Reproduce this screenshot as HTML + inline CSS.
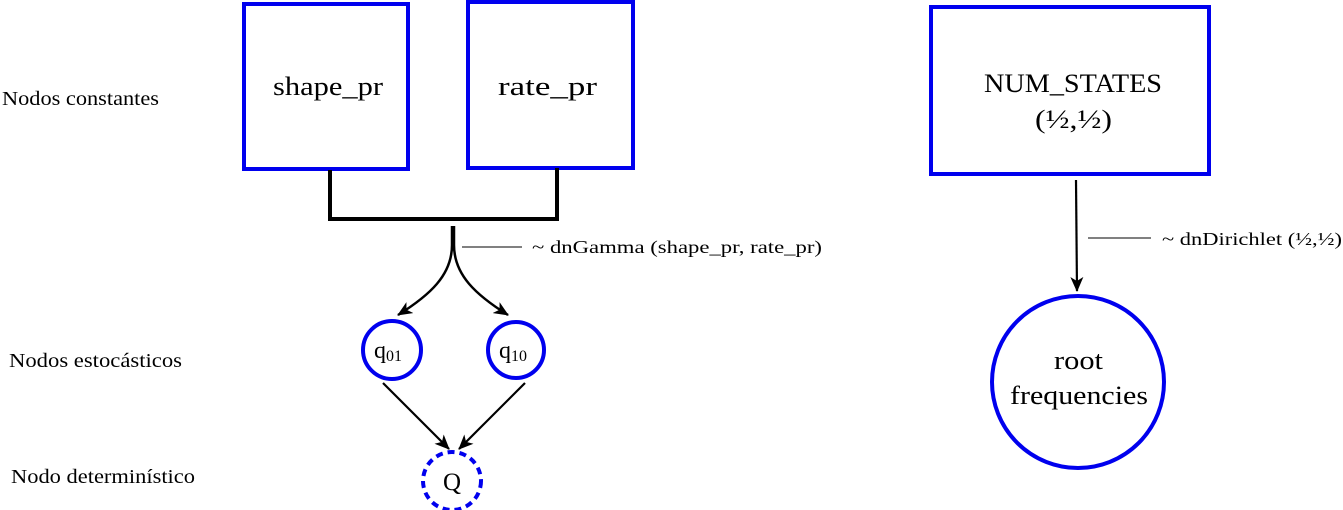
<!DOCTYPE html>
<html><head><meta charset="utf-8"><style>
html,body{margin:0;padding:0;background:#fff;}
svg{display:block;}
text{font-family:"Liberation Serif",serif;fill:#000;}
</style></head><body>
<svg width="1343" height="510" viewBox="0 0 1343 510" xmlns="http://www.w3.org/2000/svg">
<defs>
<marker id="ah" markerWidth="15" markerHeight="13" refX="14" refY="6.5" orient="auto" markerUnits="userSpaceOnUse">
<path d="M0,0 L15,6.5 L0,13 L4,6.5 Z" fill="#000"/>
</marker>
</defs>
<!-- left labels -->
<text x="2" y="105" font-size="20" textLength="157" lengthAdjust="spacingAndGlyphs">Nodos constantes</text>
<text x="9" y="367" font-size="20" textLength="173" lengthAdjust="spacingAndGlyphs">Nodos estocásticos</text>
<text x="11" y="483" font-size="20" textLength="184" lengthAdjust="spacingAndGlyphs">Nodo determinístico</text>

<!-- boxes -->
<rect x="244" y="4" width="164" height="165" fill="none" stroke="#0000ee" stroke-width="4"/>
<text x="273" y="95" font-size="26" textLength="110" lengthAdjust="spacingAndGlyphs">shape_pr</text>
<rect x="468" y="2" width="165" height="166" fill="none" stroke="#0000ee" stroke-width="4"/>
<text x="498" y="95" font-size="26" textLength="99" lengthAdjust="spacingAndGlyphs">rate_pr</text>

<!-- bracket connector -->
<path d="M330,170 V219 H557 V168" fill="none" stroke="#000" stroke-width="4"/>
<line x1="462" y1="247" x2="522" y2="247" stroke="#000" stroke-width="1"/>
<text x="532" y="253" font-size="18" textLength="290" lengthAdjust="spacingAndGlyphs">~ dnGamma (shape_pr, rate_pr)</text>
<path d="M452,226 V245 C452,275 430,295 398,315" fill="none" stroke="#000" stroke-width="2.5" marker-end="url(#ah)"/>
<path d="M454,226 V245 C454,275 476,295 508,315" fill="none" stroke="#000" stroke-width="2.5" marker-end="url(#ah)"/>

<!-- stochastic nodes -->
<circle cx="392" cy="350" r="29" fill="none" stroke="#0000ee" stroke-width="4"/>
<text x="374" y="358" font-size="24">q<tspan font-size="16" dy="3">01</tspan></text>
<circle cx="516" cy="350" r="28" fill="none" stroke="#0000ee" stroke-width="4"/>
<text x="499" y="358" font-size="24">q<tspan font-size="16" dy="3">10</tspan></text>

<line x1="383" y1="383" x2="449" y2="449" stroke="#000" stroke-width="2.2" marker-end="url(#ah)"/>
<line x1="525" y1="383" x2="459" y2="449" stroke="#000" stroke-width="2.2" marker-end="url(#ah)"/>

<!-- deterministic -->
<circle cx="452" cy="481" r="29" fill="none" stroke="#0000ee" stroke-width="4" stroke-dasharray="7,5"/>
<text x="452" y="490" font-size="25" text-anchor="middle">Q</text>

<!-- right side -->
<rect x="931" y="7" width="278" height="167" fill="none" stroke="#0000ee" stroke-width="4"/>
<text x="984" y="92" font-size="26" textLength="178" lengthAdjust="spacingAndGlyphs">NUM_STATES</text>
<text x="1035" y="128" font-size="26" textLength="77" lengthAdjust="spacingAndGlyphs">(½,½)</text>
<line x1="1076" y1="180" x2="1077" y2="291" stroke="#000" stroke-width="2.2" marker-end="url(#ah)"/>
<line x1="1088" y1="238" x2="1151" y2="238" stroke="#000" stroke-width="1"/>
<text x="1162" y="245" font-size="18" textLength="180" lengthAdjust="spacingAndGlyphs">~ dnDirichlet (½,½)</text>
<circle cx="1078" cy="382" r="86" fill="none" stroke="#0000ee" stroke-width="4"/>
<text x="1054" y="369" font-size="26" textLength="49" lengthAdjust="spacingAndGlyphs">root</text>
<text x="1010" y="404" font-size="26" textLength="138" lengthAdjust="spacingAndGlyphs">frequencies</text>
</svg>
</body></html>
